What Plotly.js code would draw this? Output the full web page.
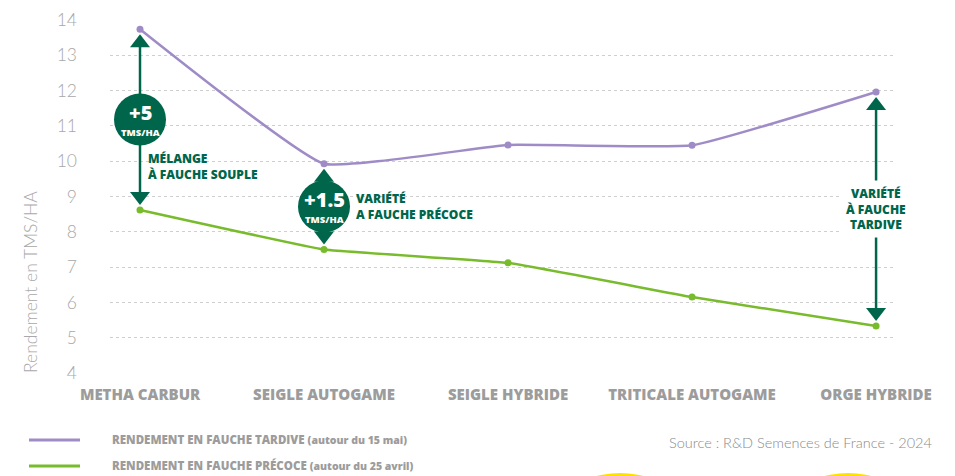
<!DOCTYPE html>
<html>
<head>
<meta charset="utf-8">
<script src="https://cdn.plot.ly/plotly-3.0.1.min.js"></script>
<style>html,body{margin:0;padding:0;background:#fff;}#chart{width:955px;height:476px;}</style>
</head>
<body>
<div id="chart"></div>
<script>
// ---- data ----
const categories = ["METHA CARBUR", "SEIGLE AUTOGAME", "SEIGLE HYBRIDE", "TRITICALE AUTOGAME", "ORGE HYBRIDE"];
const lateYield = [13.74, 9.93, 10.46, 10.45, 11.96];   // fauche tardive
const earlyYield = [8.62, 7.5, 7.12, 6.15, 5.33];       // fauche précoce
const lateName = "RENDEMENT EN FAUCHE TARDIVE";
const lateNote = "(autour du 15 mai)";
const earlyName = "RENDEMENT EN FAUCHE PRÉCOCE";
const earlyNote = "(autour du 25 avril)";
const gains = [
  {idx: 0, big: "+5", small: "TMS/HA", label: "MÉLANGE<br>À FAUCHE SOUPLE"},
  {idx: 1, big: "+1.5", small: "TMS/HA", label: "VARIÉTÉ<br>A FAUCHE PRÉCOCE"},
  {idx: 4, big: null, small: null, label: "VARIÉTÉ<br>À FAUCHE<br>TARDIVE"}
];
const yTitle = "Rendement en TMS/HA";
const sourceText = "Source : R&D Semences de France - 2024";

// ---- style ----
const PURPLE = "#9f8cc7";
const GREEN = "#78bb2c";
const DARK = "#00664b";
const GRAY = "#9c9c9c";
const FONT = "Lato, 'Open Sans', sans-serif";
const BFONT = "'Open Sans', Lato, sans-serif";

const W = 955, H = 476;
const M = {l: 110, r: 62, t: 20, b: 103};
const plotW = W - M.l - M.r, plotH = H - M.t - M.b;
const yRange = [4, 14];
const pxPerUnit = plotH / (yRange[1] - yRange[0]);
const px = v => v / pxPerUnit;
const paperX = p => (p - M.l) / plotW;
const paperY = p => (H - M.b - p) / plotH;

const traces = [
  {x: categories, y: lateYield, type: "scatter", mode: "lines+markers", name: lateName,
   line: {color: PURPLE, width: 2.5, shape: "spline", smoothing: 0.35},
   marker: {color: PURPLE, size: 7}, showlegend: false, hoverinfo: "skip"},
  {x: categories, y: earlyYield, type: "scatter", mode: "lines+markers", name: earlyName,
   line: {color: GREEN, width: 2.5, shape: "spline", smoothing: 0.25},
   marker: {color: GREEN, size: 7}, showlegend: false, hoverinfo: "skip"}
];

const shapes = [];
const annotations = [];

gains.forEach(g => {
  const top = lateYield[g.idx], bot = earlyYield[g.idx];
  const mid = (top + bot) / 2;
  shapes.push({type: "line", xref: "x", yref: "y", x0: g.idx, x1: g.idx,
    y0: top - px(12), y1: bot + px(12), line: {color: DARK, width: 2.5}, layer: "above"});
  shapes.push({type: "path", xref: "x", yref: "y", xsizemode: "pixel", ysizemode: "pixel",
    xanchor: g.idx, yanchor: top, path: "M 0 -5 L -10 -18 L 10 -18 Z",
    fillcolor: DARK, line: {width: 0}, layer: "above"});
  shapes.push({type: "path", xref: "x", yref: "y", xsizemode: "pixel", ysizemode: "pixel",
    xanchor: g.idx, yanchor: bot, path: "M 0 5 L -10 18 L 10 18 Z",
    fillcolor: DARK, line: {width: 0}, layer: "above"});
  if (g.big) {
    shapes.push({type: "circle", xref: "x", yref: "y", xsizemode: "pixel", ysizemode: "pixel",
      xanchor: g.idx, yanchor: mid, x0: -26, x1: 26, y0: -26, y1: 26,
      fillcolor: DARK, line: {width: 0}, layer: "above"});
    annotations.push({x: g.idx, y: mid, xref: "x", yref: "y", text: g.big,
      showarrow: false, yshift: 7.5, font: {family: BFONT, size: 20, color: "#fff", weight: 800}});
    annotations.push({x: g.idx, y: mid, xref: "x", yref: "y", text: g.small,
      showarrow: false, yshift: -12.5, font: {family: BFONT, size: 9.5, color: "#fff", weight: 800}});
  }
});
const labelFont = {family: BFONT, size: 12, color: DARK, weight: 800};
annotations.push({x: 0, y: 9.85, xref: "x", yref: "y", text: gains[0].label,
  showarrow: false, xanchor: "left", align: "left", xshift: 6, font: labelFont});
annotations.push({x: 1, y: (lateYield[1] + earlyYield[1]) / 2, xref: "x", yref: "y",
  text: gains[1].label, showarrow: false, xanchor: "left", align: "left", xshift: 30, font: labelFont});
annotations.push({x: 4, y: 8.65, xref: "x", yref: "y", text: gains[2].label,
  showarrow: false, align: "center", bgcolor: "#fff", borderpad: 4, font: labelFont});

// y-axis title
annotations.push({xref: "paper", yref: "paper", x: paperX(30), y: paperY(282), xanchor: "center", yanchor: "middle",
  text: yTitle, textangle: -90, showarrow: false, font: {family: FONT, size: 17.5, color: "#a8a8a8", weight: 300}});

// legend (custom)
[[lateName, lateNote, PURPLE, 440], [earlyName, earlyNote, GREEN, 466]].forEach(([n, note, c, yp]) => {
  shapes.push({type: "line", xref: "paper", yref: "paper", x0: paperX(29), x1: paperX(80),
    y0: paperY(yp), y1: paperY(yp), line: {color: c, width: 3}});
  annotations.push({xref: "paper", yref: "paper", x: 0, y: paperY(yp), xanchor: "left", yanchor: "middle",
    text: n + " <span style='font-size:10.5px'>" + note + "</span>", showarrow: false,
    font: {family: BFONT, size: 11.5, color: GRAY, weight: 800}});
});

// source
annotations.push({xref: "paper", yref: "paper", x: paperX(934), y: paperY(442), xanchor: "right", yanchor: "middle",
  text: sourceText, showarrow: false, font: {family: FONT, size: 14.5, color: "#8a8a8a", weight: 300}});

// decorative yellow discs at bottom
[620, 848].forEach(cx => {
  shapes.push({type: "circle", xref: "paper", yref: "paper", xsizemode: "pixel", ysizemode: "pixel",
    xanchor: paperX(cx), yanchor: paperY(473), x0: -90, x1: 90, y0: 0, y1: -180,
    fillcolor: "#ffe100", line: {width: 0}});
});

const layout = {
  width: W, height: H, margin: M,
  paper_bgcolor: "#fff", plot_bgcolor: "#fff",
  font: {family: FONT, color: GRAY},
  xaxis: {type: "category", range: [-0.163, 4.092], showgrid: false, zeroline: false,
    showline: false, ticks: "", ticklabelstandoff: 11,
    tickfont: {family: BFONT, size: 15, color: GRAY, weight: 800}, fixedrange: true},
  yaxis: {range: yRange, dtick: 1, showgrid: true, gridcolor: "#cfcfcf", griddash: "dot", gridwidth: 1,
    zeroline: false, showline: false, ticks: "", ticklabelstandoff: 32,
    tickfont: {family: FONT, size: 17.5, color: "#a8a8a8", weight: 300}, fixedrange: true},
  shapes: shapes,
  annotations: annotations,
  showlegend: false
};

Plotly.newPlot("chart", traces, layout, {displayModeBar: false, staticPlot: true});
</script>
</body>
</html>
